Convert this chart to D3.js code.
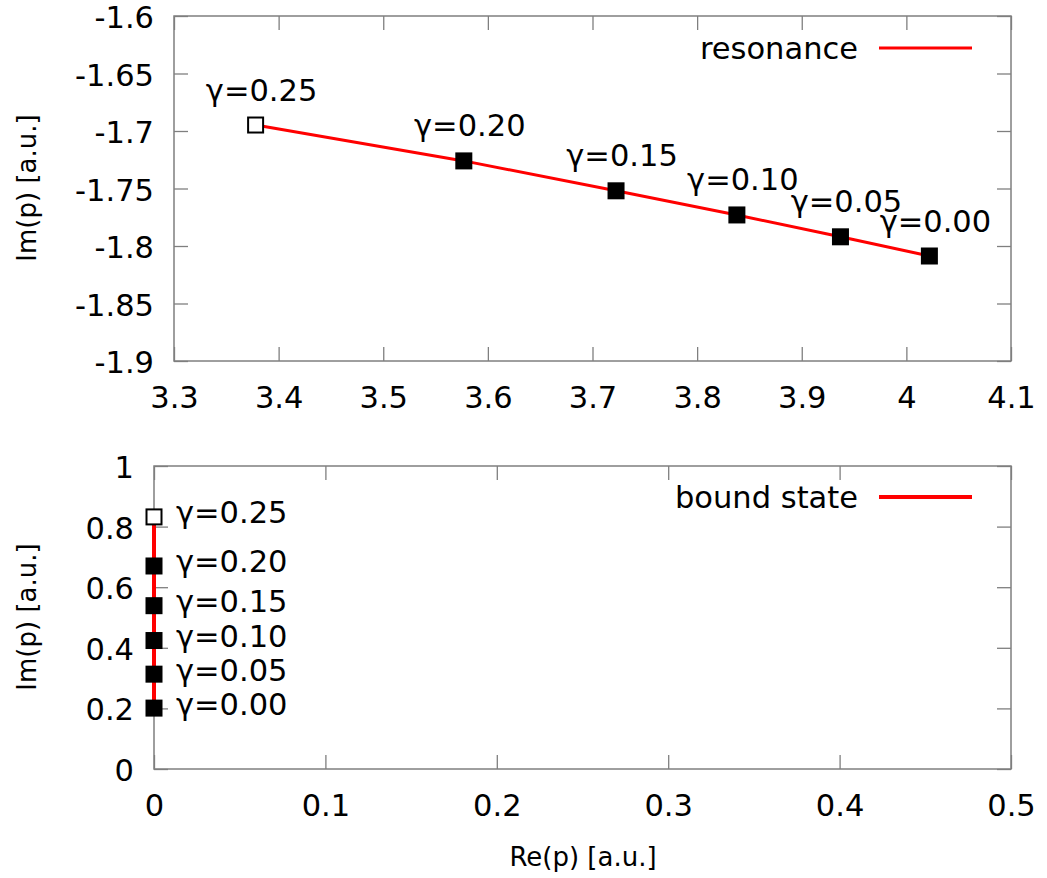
<!DOCTYPE html>
<html><head><meta charset="utf-8">
<script src="https://cdn.jsdelivr.net/npm/d3@7"></script>
<style>body{margin:0;background:#fff}text{font-family:"DejaVu Sans",sans-serif;fill:#000}</style>
</head><body><svg id="c" width="1047" height="878"></svg>
<script>
const gammaLabels = ["γ=0.25","γ=0.20","γ=0.15","γ=0.10","γ=0.05","γ=0.00"];
const resRe = [3.378, 3.577, 3.7225, 3.838, 3.937, 4.022];
const resIm = [-1.6948, -1.726, -1.752, -1.773, -1.792, -1.8087];
const boundRe = [0, 0, 0, 0, 0, 0];
const boundIm = [0.832, 0.670, 0.539, 0.424, 0.313, 0.201];
const topXTicks = [3.3,3.4,3.5,3.6,3.7,3.8,3.9,4.0,4.1];
const topYTicks = [-1.6,-1.65,-1.7,-1.75,-1.8,-1.85,-1.9];
const botXTicks = [0,0.1,0.2,0.3,0.4,0.5];
const botYTicks = [0,0.2,0.4,0.6,0.8,1];

const svg = d3.select("#c");
const FS = 30.5;
const fmt = d=>String(+d.toFixed(2));

function panel(o){
  const g = svg.append("g");
  const x = d3.scaleLinear().domain(o.xd).range([o.l,o.r]);
  const y = d3.scaleLinear().domain(o.yd).range([o.b,o.t]);
  const tl = 14, col="#7f7f7f";
  const gb = g.append("g").attr("transform",`translate(0,${o.b})`).call(d3.axisBottom(x).tickValues(o.xt).tickSize(-tl).tickPadding(25).tickFormat(fmt));
  const gt = g.append("g").attr("transform",`translate(0,${o.t})`).call(d3.axisTop(x).tickValues(o.xt).tickSize(-tl).tickFormat(""));
  const gl = g.append("g").attr("transform",`translate(${o.l},0)`).call(d3.axisLeft(y).tickValues(o.yt).tickSize(-tl).tickPadding(20).tickFormat(fmt));
  const gr = g.append("g").attr("transform",`translate(${o.r},0)`).call(d3.axisRight(y).tickValues(o.yt).tickSize(-tl).tickFormat(""));
  [gb,gt,gl,gr].forEach(a=>{
    a.select(".domain").remove();
    a.selectAll(".tick line").attr("stroke",col).attr("stroke-width",1.3);
    a.selectAll("text").style("font-size",FS+"px").style("font-family","DejaVu Sans").attr("fill","#000");
  });
  gb.selectAll("text").attr("dy","0.71em");
  gl.selectAll("text").attr("dy","0.38em");
  g.append("rect").attr("x",o.l).attr("y",o.t).attr("width",o.r-o.l).attr("height",o.b-o.t)
    .attr("fill","none").attr("stroke",col).attr("stroke-width",1.5);
  g.append("text").attr("transform",`translate(${o.yl[0]},${o.yl[1]}) rotate(-90)`)
    .attr("text-anchor","middle").attr("dominant-baseline","central").style("font-size","26px").text("Im(p) [a.u.]");
  const pts = o.xs.map((v,i)=>[v,o.ys[i]]);
  g.append("path").datum(pts).attr("d",d3.line().x(d=>x(d[0])).y(d=>y(d[1])))
    .attr("fill","none").attr("stroke","#ff0000").attr("stroke-width",o.lw);
  pts.forEach((d,i)=>{
    const s = i===0?15:17;
    g.append("rect").attr("x",x(d[0])-s/2).attr("y",y(d[1])-s/2).attr("width",s).attr("height",s)
      .attr("fill",i===0?"#fff":"#000").attr("stroke","#000").attr("stroke-width",i===0?2:0);
  });
  pts.forEach((d,i)=>{
    const t = g.append("text").style("font-size",FS+"px").text(gammaLabels[i]);
    if(o.labMode==="above"){
      t.attr("x",x(d[0])+6).attr("y",y(d[1])-35).attr("text-anchor","middle").attr("dominant-baseline","central");
    } else {
      t.attr("x",x(d[0])+22).attr("y",y(d[1])-4).attr("text-anchor","start").attr("dominant-baseline","central");
    }
  });
  g.append("text").attr("x",858).attr("y",o.legY).attr("text-anchor","end").attr("dominant-baseline","central")
    .style("font-size",FS+"px").text(o.legend);
  g.append("line").attr("x1",879).attr("x2",972).attr("y1",o.legY).attr("y2",o.legY)
    .attr("stroke","#ff0000").attr("stroke-width",o.lw);
  return {x,y};
}

panel({l:174,r:1011,t:16,b:361,xd:[3.3,4.1],yd:[-1.9,-1.6],xt:topXTicks,yt:topYTicks,
  xs:resRe,ys:resIm,lw:3,labMode:"above",legend:"resonance",legY:48,yl:[27,188]});
panel({l:154,r:1011,t:466,b:769,xd:[0,0.5],yd:[0,1],xt:botXTicks,yt:botYTicks,
  xs:boundRe,ys:boundIm,lw:4,labMode:"right",legend:"bound state",legY:497,yl:[27,617]});
svg.append("text").attr("x",583).attr("y",857).attr("text-anchor","middle").attr("dominant-baseline","central")
  .style("font-size","26px").text("Re(p) [a.u.]");
</script></body></html>
